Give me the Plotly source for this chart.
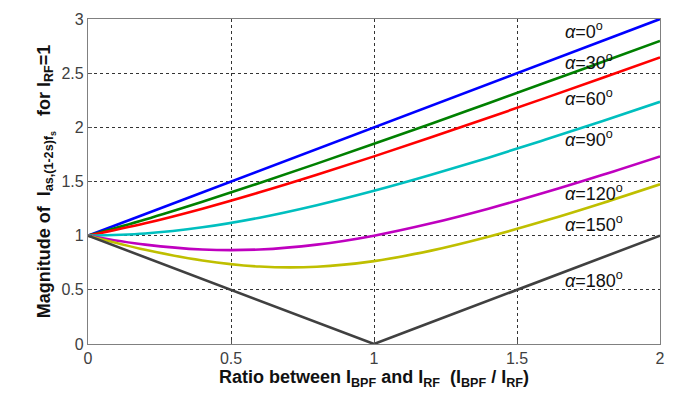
import plotly.graph_objects as go

ratio = [0.0, 0.2, 0.4, 0.6, 0.8, 1.0, 1.2, 1.4, 1.6, 1.8, 2.0]
mag_0 = [1.0, 1.2, 1.4, 1.6, 1.8, 2.0, 2.2, 2.4, 2.6, 2.8, 3.0]
mag_30 = [1.0, 1.150, 1.314, 1.486, 1.665, 1.848, 2.034, 2.223, 2.413, 2.605, 2.798]
mag_60 = [1.0, 1.114, 1.249, 1.400, 1.562, 1.732, 1.908, 2.088, 2.272, 2.458, 2.646]
mag_90 = [1.0, 1.020, 1.077, 1.166, 1.281, 1.414, 1.562, 1.720, 1.887, 2.059, 2.236]
mag_120 = [1.0, 0.917, 0.872, 0.872, 0.917, 1.000, 1.114, 1.249, 1.400, 1.562, 1.732]
mag_150 = [1.0, 0.870, 0.771, 0.715, 0.713, 0.765, 0.862, 0.990, 1.139, 1.302, 1.474]
mag_180 = [1.0, 0.8, 0.6, 0.4, 0.2, 0.0, 0.2, 0.4, 0.6, 0.8, 1.0]

series = [
    ("α=0°", mag_0, "#0000FF", "linear"),
    ("α=30°", mag_30, "#008000", "spline"),
    ("α=60°", mag_60, "#FF0000", "spline"),
    ("α=90°", mag_90, "#00BFBF", "spline"),
    ("α=120°", mag_120, "#BF00BF", "spline"),
    ("α=150°", mag_150, "#BFBF00", "spline"),
    ("α=180°", mag_180, "#404040", "linear"),
]

label_angles = ["0", "30", "60", "90", "120", "150", "180"]
label_y = [2.89, 2.61, 2.28, 1.90, 1.40, 1.11, 0.60]
label_x = 1.66

fig = go.Figure()
for name, ys, col, shape in series:
    fig.add_trace(go.Scatter(x=ratio, y=ys, mode="lines", name=name,
                             line=dict(color=col, width=2.6, shape=shape),
                             showlegend=False))

for ang, ly in zip(label_angles, label_y):
    fig.add_annotation(x=label_x, y=ly, xref="x", yref="y",
                       text="<i>α</i>=" + ang + "<sup>o</sup>",
                       showarrow=False, xanchor="left", yanchor="middle",
                       font=dict(family="Liberation Sans, Arial", size=18, color="#111111"))

axis_common = dict(showline=True, mirror=True, linecolor="#808080", linewidth=1.2,
                   showgrid=True, gridcolor="#333333", griddash="dot", gridwidth=1,
                   ticks="inside", ticklen=4, tickcolor="#555555",
                   zeroline=False,
                   tickfont=dict(family="Liberation Sans, Arial", size=16, color="#404040"))

fig.update_xaxes(range=[0, 2], tickvals=[0, 0.5, 1, 1.5, 2], ticktext=["0", "0.5", "1", "1.5", "2"],
                 title=dict(text="<b>Ratio between I<sub>BPF</sub> and I<sub>RF</sub>  (I<sub>BPF</sub> / I<sub>RF</sub>)</b>",
                            font=dict(family="Liberation Sans, Arial", size=18, color="#111111"),
                            standoff=2),
                 **axis_common)
fig.update_yaxes(range=[0, 3], tickvals=[0, 0.5, 1, 1.5, 2, 2.5, 3],
                 ticktext=["0", "0.5", "1", "1.5", "2", "2.5", "3"],
                 title=dict(text="<b>Magnitude of  I<sub>as,(1-2s)f<sub>s</sub></sub>   for I<sub>RF</sub>=1</b>",
                            font=dict(family="Liberation Sans, Arial", size=18, color="#111111"),
                            standoff=6),
                 **axis_common)

fig.update_layout(width=691, height=396, margin=dict(l=88, r=31, t=11, b=52),
                  plot_bgcolor="white", paper_bgcolor="white")

fig.write_html("out.html")
